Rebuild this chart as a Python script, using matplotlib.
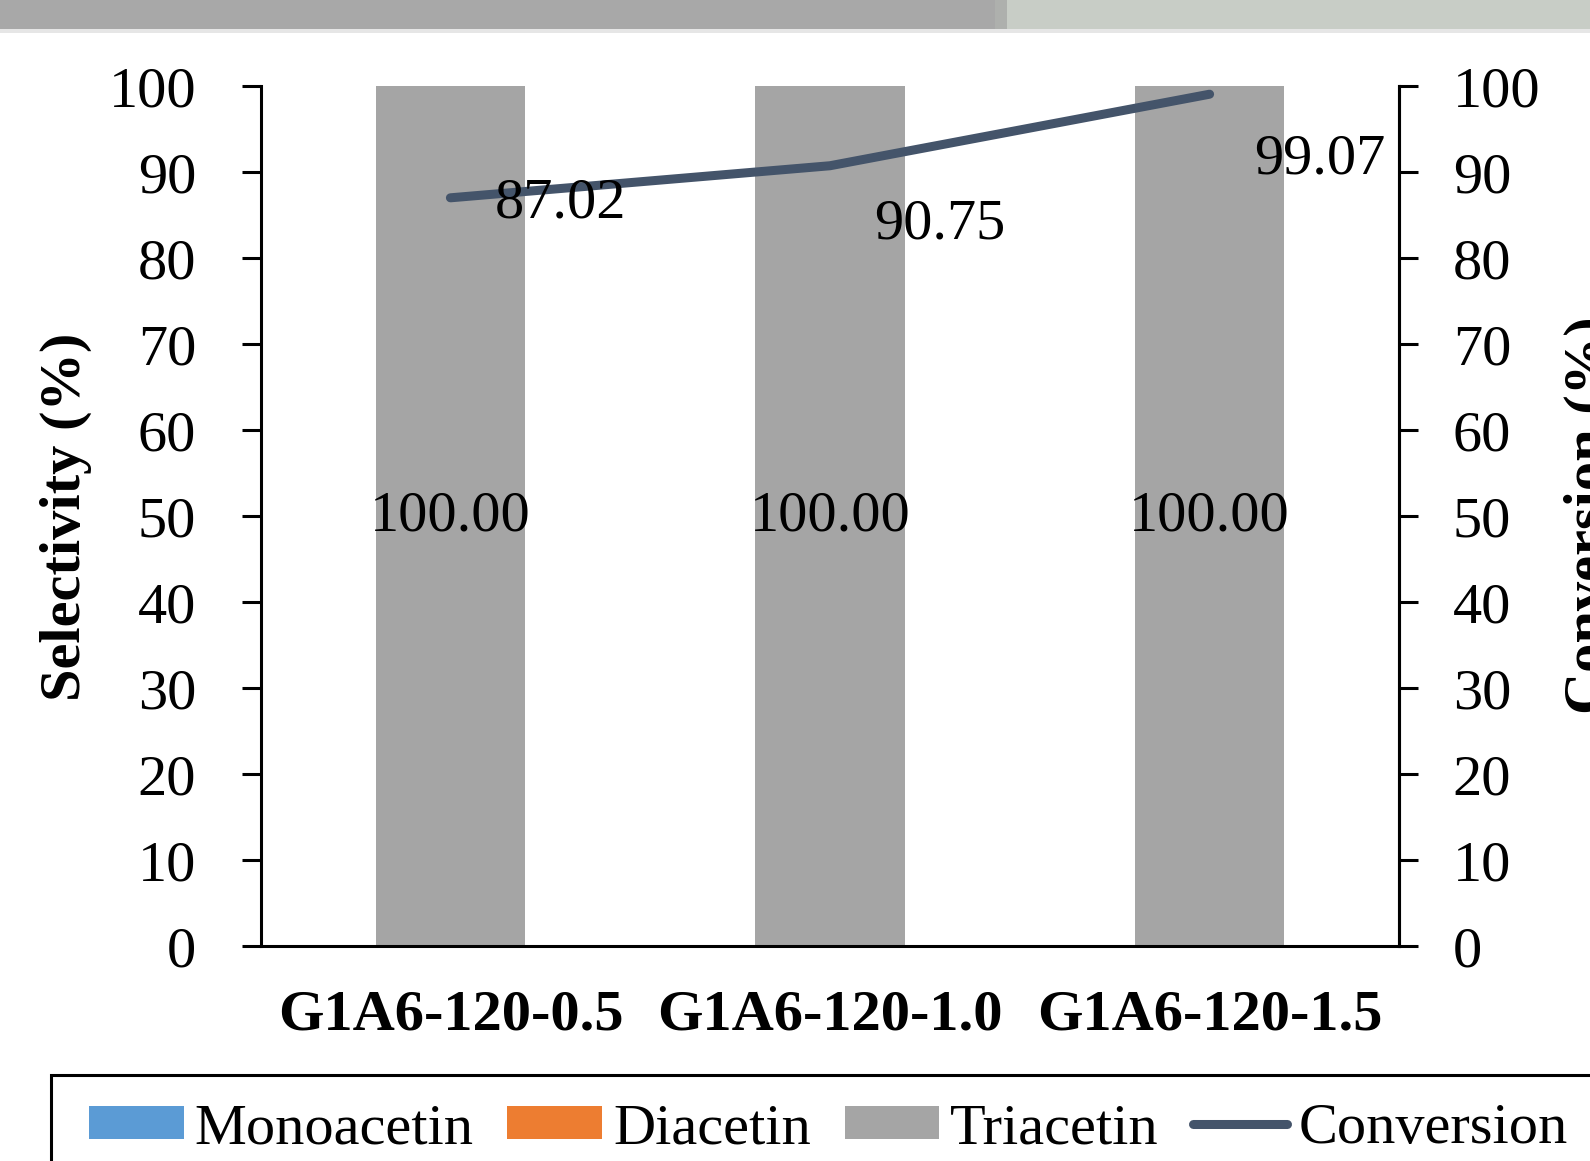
import matplotlib
matplotlib.use("Agg")
import matplotlib.pyplot as plt
from matplotlib.patches import Rectangle
import numpy as np

plt.rcParams['font.family'] = ['Liberation Serif', 'DejaVu Serif']

categories = ["G1A6-120-0.5", "G1A6-120-1.0", "G1A6-120-1.5"]
monoacetin = [0.0, 0.0, 0.0]
diacetin = [0.0, 0.0, 0.0]
triacetin = [100.00, 100.00, 100.00]
conversion = [87.02, 90.75, 99.07]
yticks = [0, 10, 20, 30, 40, 50, 60, 70, 80, 90, 100]

# label offsets (points) for the conversion values
conv_offsets = [(79, -4), (79, -42), (79, -47)]

W, H = 1590, 1161
fig = plt.figure(figsize=(W / 100, H / 100), dpi=100)
fs = 42

# window strip along the top edge
fig.patches.append(Rectangle((0, 1 - 29 / H), 995 / W, 29 / H, transform=fig.transFigure,
                             facecolor='#a8a8a8', edgecolor='none', zorder=0))
fig.patches.append(Rectangle((995 / W, 1 - 29 / H), 12 / W, 29 / H, transform=fig.transFigure,
                             facecolor='#aeb0ad', edgecolor='none', zorder=0))
fig.patches.append(Rectangle((1007 / W, 1 - 29 / H), 1 - 1007 / W, 29 / H, transform=fig.transFigure,
                             facecolor='#c8cdc6', edgecolor='none', zorder=0))
fig.patches.append(Rectangle((0, 1 - 33 / H), 1, 4 / H, transform=fig.transFigure,
                             facecolor='#e6e6e6', edgecolor='none', zorder=0))

ax = fig.add_axes([260.6 / W, 1 - 946.1 / H, (1399.4 - 260.6) / W, (946.1 - 86.2) / H])
x = np.arange(len(categories))
bw = 0.393

b1 = ax.bar(x, monoacetin, bw, color='#5b9bd5', label='Monoacetin')
b2 = ax.bar(x, diacetin, bw, bottom=monoacetin, color='#ed7d31', label='Diacetin')
bottom3 = np.array(monoacetin) + np.array(diacetin)
b3 = ax.bar(x, triacetin, bw, bottom=bottom3, color='#a5a5a5', label='Triacetin')
for xi, b0, v in zip(x, bottom3, triacetin):
    ax.text(xi, b0 + v / 2, f"{v:.2f}", ha='center', va='center', fontsize=fs, color='black')

ax.set_xlim(-0.5, len(categories) - 0.5)
ax.set_ylim(0, 100)
ax.set_yticks(yticks)
ax.set_xticks(x)
ax.set_xticklabels(categories, fontsize=fs, fontweight='bold')
ax.tick_params(axis='x', length=0, pad=31)
ax.tick_params(axis='y', direction='out', length=13.5, width=2.2, labelsize=fs, pad=33)
ax.spines['top'].set_visible(False)
for s in ['left', 'right', 'bottom']:
    ax.spines[s].set_linewidth(2.2)

ax2 = ax.twinx()
ax2.set_ylim(0, 100)
ax2.set_yticks(yticks)
ax2.tick_params(axis='y', direction='out', length=13.5, width=2.2, labelsize=fs, pad=25)
for s in ['top', 'left', 'bottom']:
    ax2.spines[s].set_visible(False)
ax2.spines['right'].set_linewidth(2.2)
ln, = ax2.plot(x, conversion, color='#44546a', lw=6.5, solid_capstyle='round', label='Conversion')
for xi, v, (dx, dy) in zip(x, conversion, conv_offsets):
    ax2.annotate(f"{v:.2f}", (xi, v), xytext=(dx, dy), textcoords='offset points',
                 ha='center', va='center', fontsize=fs)

fig.text(66 / W, 1 - 517 / H, "Selectivity (%)", rotation=90, ha='center', va='center',
         fontsize=fs, fontweight='bold')
fig.text(1590 / W, 1 - 515 / H, "Conversion (%)", rotation=90, ha='center', va='center',
         fontsize=fs, fontweight='bold')

# legend frame running off the bottom-right corner
fig.patches.append(Rectangle((51 / W, -0.05), 1.1, (1 - 1075 / H) + 0.05, transform=fig.transFigure,
                             facecolor='white', edgecolor='black', linewidth=2.2, zorder=1))
leg = fig.legend([b1, b2, b3, ln], ['Monoacetin', 'Diacetin', 'Triacetin', 'Conversion'],
                 loc='center left', bbox_to_anchor=(89 / W, 1 - 1129 / H), ncol=4, frameon=False,
                 fontsize=fs, handlelength=1.62, handleheight=0.5, handletextpad=0.19,
                 columnspacing=0.58, borderpad=0, borderaxespad=0)
leg.set_zorder(2)

fig.savefig("out.png", dpi=100)
